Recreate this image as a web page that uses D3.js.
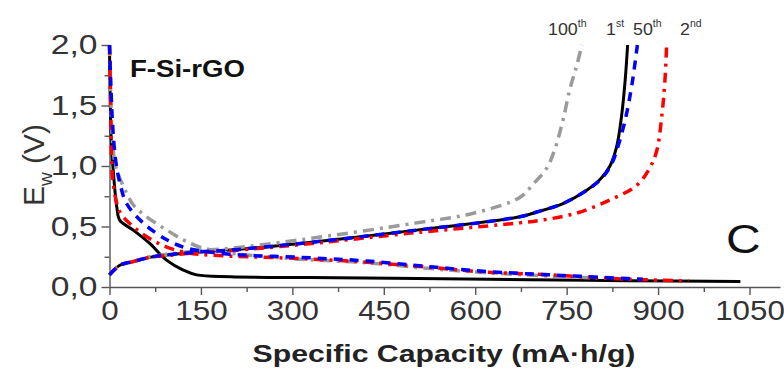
<!DOCTYPE html>
<html>
<head>
<meta charset="utf-8">
<script src="https://d3js.org/d3.v7.min.js"></script>
<style>
  body { margin: 0; background: #fff; }
  svg text { font-family: "Liberation Sans", Arial, sans-serif; }
  .axis path, .axis line { stroke: #555; stroke-width: 1.4px; }
  .axis text { fill: #333; font-size: 28px; }
</style>
</head>
<body>
<svg id="chart" width="784" height="371"></svg>
<script>
// [capacity mA·h/g, potential V]
const cycle1Discharge = [[0,2.0],[1,1.6],[3,1.2],[6,0.97],[12,0.66],[17,0.55],[39,0.47],[66,0.36],[94,0.22],[121,0.14],[143,0.10],[198,0.085],[330,0.078],[465,0.072],[690,0.06],[850,0.052],[1035,0.045]];
const cycle1Charge = [[0,0.1],[17,0.18],[39,0.21],[66,0.245],[94,0.265],[148,0.29],[198,0.305],[313,0.36],[504,0.47],[673,0.58],[701,0.62],[744,0.69],[783,0.80],[805,0.89],[821,1.0],[832,1.16],[840,1.41],[846,1.71],[850,2.0]];
const cycle2Discharge = [[0,2.0],[2,1.5],[3.6,1.02],[6,0.86],[17,0.62],[39,0.50],[66,0.40],[94,0.33],[121,0.29],[148,0.27],[198,0.255],[313,0.235],[422,0.205],[531,0.16],[613,0.125],[723,0.10],[849,0.065],[950,0.05]];
const cycle2Charge = [[0,0.1],[17,0.18],[39,0.21],[66,0.245],[94,0.26],[148,0.285],[198,0.30],[313,0.35],[504,0.45],[673,0.53],[706,0.55],[766,0.61],[821,0.72],[865,0.84],[887,0.99],[898,1.13],[906,1.41],[911,1.69],[914,2.0]];
const cycle50Discharge = [[0,2.0],[2,1.7],[5,1.35],[10,1.05],[17,0.86],[28,0.69],[55,0.53],[94,0.39],[121,0.33],[148,0.30],[198,0.27],[313,0.245],[422,0.215],[531,0.165],[613,0.13],[723,0.10],[850,0.07],[875,0.065]];
const cycle50Charge = [[0,0.1],[17,0.18],[39,0.21],[66,0.245],[94,0.265],[148,0.29],[198,0.305],[313,0.36],[504,0.47],[673,0.58],[701,0.62],[744,0.69],[783,0.80],[808,0.90],[824,1.02],[834,1.16],[846,1.38],[857,1.67],[866,2.0]];
const cycle100Discharge = [[0,2.0],[2,1.6],[5,1.2],[10,1.0],[23,0.83],[39,0.68],[61,0.58],[94,0.47],[121,0.39],[148,0.33],[198,0.28],[313,0.23],[422,0.2],[531,0.15],[613,0.12],[723,0.09],[800,0.075]];
const cycle100Charge = [[0,0.1],[17,0.18],[39,0.21],[66,0.25],[94,0.27],[148,0.30],[198,0.32],[313,0.39],[504,0.53],[597,0.61],[673,0.74],[695,0.85],[717,0.98],[730,1.13],[744,1.38],[755,1.63],[766,1.82],[775,2.0]];

const xTicks = [0, 150, 300, 450, 600, 750, 900, 1050];
const yTicks = [0, 0.5, 1.0, 1.5, 2.0];
const cycleLabels = [["100", "th"], ["1", "st"], ["50", "th"], ["2", "nd"]];

const svg = d3.select("#chart");
const x = d3.scaleLinear().domain([0, 1100]).range([109.5, 780]);
const y = d3.scaleLinear().domain([0, 2.0]).range([287, 45]);
const stretch = 1.2; // the figure text is widened horizontally

// minor ticks
svg.append("g").attr("class", "axis")
  .attr("transform", "translate(0,287)")
  .call(d3.axisBottom(x).tickValues(d3.range(75, 1100, 150)).tickSize(5).tickFormat(""))
  .select(".domain").remove();
svg.append("g").attr("class", "axis")
  .attr("transform", "translate(109.5,0)")
  .call(d3.axisLeft(y).tickValues([0.25, 0.75, 1.25, 1.75]).tickSize(5).tickFormat(""))
  .select(".domain").remove();

const xAxis = svg.append("g").attr("class", "axis")
  .attr("transform", "translate(0,287)")
  .call(d3.axisBottom(x).tickValues(xTicks).tickSize(8).tickSizeOuter(0).tickPadding(5)
    .tickFormat(d3.format("d")));
xAxis.selectAll(".tick text").attr("transform", "scale(1.12,1)");

const yAxis = svg.append("g").attr("class", "axis")
  .attr("transform", "translate(109.5,0)")
  .call(d3.axisLeft(y).tickValues(yTicks).tickSize(8).tickSizeOuter(0).tickPadding(4)
    .tickFormat(d => d3.format(".1f")(d).replace(".", ",")));
yAxis.selectAll(".tick text")
  .attr("x", -12 / stretch)
  .attr("transform", `scale(${stretch},1)`);

const line = d3.line().x(d => x(d[0])).y(d => y(d[1])).curve(d3.curveCatmullRom.alpha(0.5));

const series = [
  { data: [cycle1Discharge, cycle1Charge], color: "#000", dash: null, width: 3 },
  { data: [cycle100Discharge, cycle100Charge], color: "#9a9a9a", dash: "11,6,3,6", width: 3.5 },
  { data: [cycle2Discharge, cycle2Charge], color: "#ff0000", dash: "10,6,3,6", width: 3.5 },
  { data: [cycle50Discharge, cycle50Charge], color: "#0000ff", dash: "9,7", width: 3.5 }
];
series.forEach(s => {
  s.data.forEach(d => {
    svg.append("path").datum(d)
      .attr("d", line)
      .attr("fill", "none")
      .attr("stroke", s.color)
      .attr("stroke-width", s.width)
      .attr("stroke-dasharray", s.dash);
  });
});

// axis titles
svg.append("text")
  .attr("transform", "translate(444,362) scale(1.26,1)")
  .attr("text-anchor", "middle")
  .attr("font-size", 24).attr("font-weight", "bold").attr("fill", "#222")
  .text("Specific Capacity (mA·h/g)");

const yl = svg.append("text")
  .attr("transform", "translate(44,165) rotate(-90)")
  .attr("text-anchor", "middle")
  .attr("font-size", 30).attr("fill", "#333");
yl.append("tspan").text("E");
yl.append("tspan").attr("font-size", 19).attr("dy", 8).text("w");
yl.append("tspan").attr("dy", -8).text(" (V)");

svg.append("text")
  .attr("transform", `translate(130,77) scale(${stretch},1)`)
  .attr("font-size", 23).attr("font-weight", "bold").attr("fill", "#111")
  .text("F-Si-rGO");

svg.append("text")
  .attr("transform", `translate(726,253) scale(${stretch},1)`)
  .attr("font-size", 40).attr("fill", "#111")
  .text("C");

// cycle labels
const labelX = [548, 606, 633, 680];
cycleLabels.forEach((c, i) => {
  const t = svg.append("text")
    .attr("transform", `translate(${labelX[i]},35) scale(1.05,1)`)
    .attr("font-size", 17).attr("fill", "#333");
  t.append("tspan").text(c[0]);
  t.append("tspan").attr("font-size", 10).attr("dy", -8).text(c[1]);
});
</script>
</body>
</html>
